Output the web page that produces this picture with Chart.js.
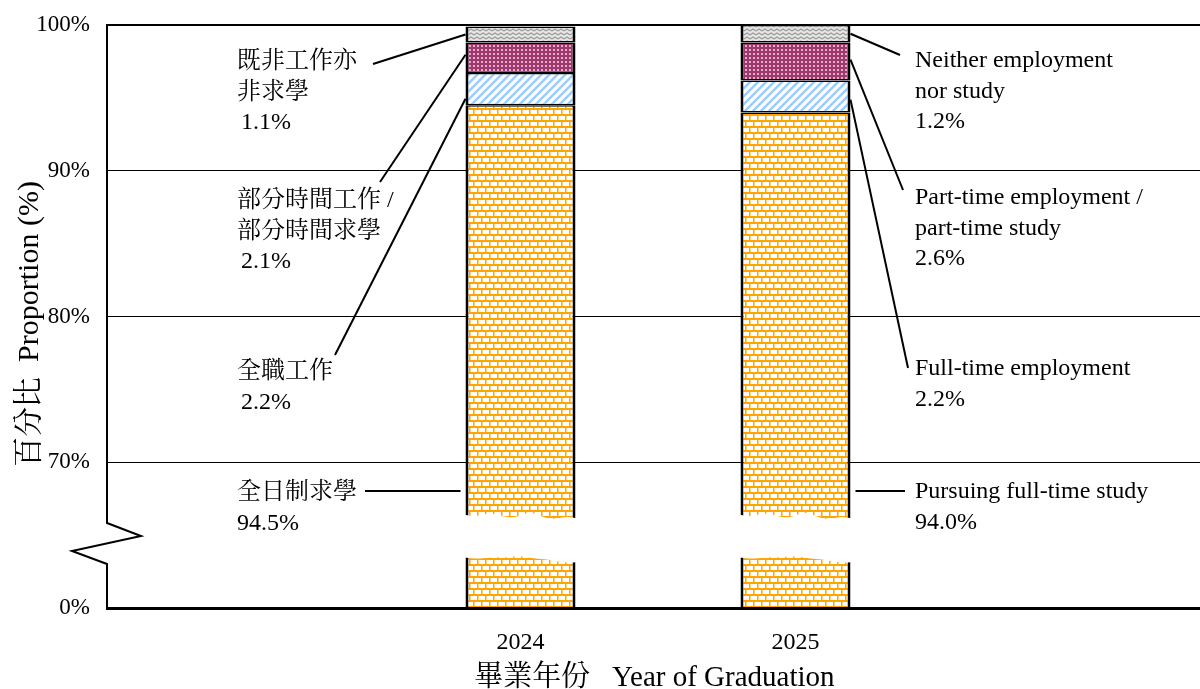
<!DOCTYPE html>
<html><head><meta charset="utf-8">
<script src="https://cdn.jsdelivr.net/npm/chart.js@4/dist/chart.umd.min.js"></script>
<style>html,body{margin:0;padding:0;background:#fff;overflow:hidden;}canvas{display:block;}</style>
</head><body>
<canvas id="c" width="1208" height="689"></canvas>
<script>
// ---- data ----
const years = ['2024', '2025'];
const fullTimeStudy = [94.5, 94.0];
const fullTimeEmployment = [2.2, 2.2];
const partTime = [2.1, 2.6];
const neither = [1.1, 1.2];
const yTicks = [60, 70, 80, 90, 100];
const yTickLabels = ['0%', '70%', '80%', '90%', '100%'];
const seriesZh = [['全日制求學'], ['全職工作'], ['部分時間工作 /', '部分時間求學'], ['既非工作亦', '非求學']];
const seriesEn = [['Pursuing full-time study'], ['Full-time employment'], ['Part-time employment /', 'part-time study'], ['Neither employment', 'nor study']];
const xTitle = '畢業年份   Year of Graduation ';
const yTitle = '百分比  Proportion (%)  ';

// ---- styles ----
const SERIF = '"Liberation Serif", "Noto Serif CJK TC", "Noto Sans CJK TC", serif';
const canvas = document.getElementById('c');
const ctx = canvas.getContext('2d');
function makePattern(w, h, draw) {
  const c = document.createElement('canvas'); c.width = w; c.height = h;
  const g = c.getContext('2d'); draw(g, w, h);
  return ctx.createPattern(c, 'repeat');
}
const orangePat = makePattern(8, 12, (g) => {
  g.fillStyle = '#fff'; g.fillRect(0, 0, 8, 12);
  g.fillStyle = '#FFA500';
  g.fillRect(0, 0, 8, 2); g.fillRect(0, 6, 8, 2);
  g.fillRect(1, 2, 1.5, 4); g.fillRect(5, 8, 1.5, 4);
});
const bluePat = makePattern(8, 8, (g) => {
  g.fillStyle = '#fff'; g.fillRect(0, 0, 8, 8);
  g.strokeStyle = '#99CCFF'; g.lineWidth = 2.5;
  for (const k of [-8, 0, 8]) { g.beginPath(); g.moveTo(k - 1, 9); g.lineTo(k + 9, -1); g.stroke(); }
});
const pinkPat = makePattern(4, 4, (g) => {
  g.fillStyle = '#9C3A6E'; g.fillRect(0, 0, 4, 4);
  g.fillStyle = '#E8A8CA'; g.fillRect(1, 1, 2, 2);
});
const grayPat = makePattern(6, 4, (g) => {
  g.fillStyle = '#E6E6E6'; g.fillRect(0, 0, 6, 4);
  g.strokeStyle = '#9A9A9A'; g.lineWidth = 1.2;
  g.beginPath(); g.moveTo(0, 3); g.lineTo(3, 1); g.lineTo(6, 3); g.stroke();
});

const pad = arr => [null, ...arr, null];
const labels = ['', ...years, ''];

// ---- annotation layout (pixel positions of text blocks) ----
const LINE_H = 30.5;
const leftLayout = [
  { x: 237, y: 493, px: 237, start: [365, 491], anchor: null },
  { x: 237, y: 372, px: 241, start: [335, 355], anchor: 0.2 },
  { x: 237, y: 201, px: 241, start: [380, 182], anchor: 0.6 },
  { x: 237, y: 62,  px: 241, start: [373, 64],  anchor: 0.5 }
];
const rightLayout = [
  { x: 915, y: 492, px: 915, start: [905, 491], anchor: null },
  { x: 915, y: 369, px: 915, start: [908, 368], anchor: 0.4 },
  { x: 915, y: 198, px: 915, start: [903, 190], anchor: 0.55 },
  { x: 915, y: 61,  px: 915, start: [900, 55],  anchor: 0.5 }
];

const breakPlugin = {
  id: 'breakPlugin',
  afterDatasetsDraw(chart) {
    const c = chart.ctx, ys = chart.scales.y, area = chart.chartArea;
    const meta = chart.getDatasetMeta(0);
    const yTop = ys.getPixelForValue(66.45), yBot = ys.getPixelForValue(63.5);
    c.save();
    meta.data.forEach((el, i) => {
      if (chart.data.datasets[0].data[i] == null) return;
      const L = el.x - el.width / 2 - 3, R = el.x + el.width / 2 + 3;
      const top = t => yTop + 5 * t - 2.5 * Math.exp(-Math.pow((t - 0.6) / 0.12, 2)) + 1.5 * Math.sin(t * Math.PI * 6);
      const bot = t => yBot + 5 * t - 4 * Math.exp(-Math.pow((t - 0.5) / 0.12, 2)) + 1 * Math.sin(t * Math.PI * 5);
      c.beginPath();
      const N = 40;
      for (let k = 0; k <= N; k++) { const t = k / N; const x = L + (R - L) * t; k ? c.lineTo(x, top(t)) : c.moveTo(x, top(t)); }
      for (let k = N; k >= 0; k--) { const t = k / N; c.lineTo(L + (R - L) * t, bot(t)); }
      c.closePath(); c.fillStyle = '#fff'; c.fill();
    });
    // axes
    const x0 = area.left - 1;
    c.strokeStyle = '#000'; c.lineJoin = 'miter';
    c.lineWidth = 2;
    c.beginPath();
    c.moveTo(x0, area.top - 1);
    c.lineTo(x0, ys.getPixelForValue(65.83));
    c.lineTo(x0 + 34, ys.getPixelForValue(64.94));
    c.lineTo(x0 - 35, ys.getPixelForValue(63.91));
    c.lineTo(x0, ys.getPixelForValue(63.02));
    c.lineTo(x0, area.bottom);
    c.stroke();
    c.beginPath(); c.moveTo(x0 - 1, area.top); c.lineTo(chart.width, area.top); c.stroke();
    c.lineWidth = 3;
    c.beginPath(); c.moveTo(x0 - 1, area.bottom + 0.5); c.lineTo(chart.width, area.bottom + 0.5); c.stroke();
    c.restore();
  },
  afterDraw(chart) {
    const c = chart.ctx, ys = chart.scales.y;
    const series = [fullTimeStudy, fullTimeEmployment, partTime, neither];
    const bars = chart.getDatasetMeta(0).data.filter((el, i) => chart.data.datasets[0].data[i] != null);
    c.save();
    c.fillStyle = '#000'; c.strokeStyle = '#000'; c.lineWidth = 2;
    c.font = '24px ' + SERIF; c.textBaseline = 'middle'; c.textAlign = 'left';
    const sides = [[leftLayout, seriesZh, 0, -1], [rightLayout, seriesEn, 1, 1]];
    for (const [layout, names, bi, dir] of sides) {
      const bar = bars[bi];
      const edge = bar.x + dir * bar.width / 2;
      layout.forEach((lay, s) => {
        let base = 0; for (let k = 0; k < s; k++) base += series[k][bi];
        const v = series[s][bi];
        names[s].forEach((ln, j) => c.fillText(ln, lay.x, lay.y + j * LINE_H));
        c.fillText(v.toFixed(1) + '%', lay.px, lay.y + names[s].length * LINE_H);
        c.beginPath();
        if (lay.anchor == null) {
          c.moveTo(lay.start[0], lay.start[1]);
          c.lineTo(edge + dir * 5, lay.start[1]);
        } else {
          c.moveTo(lay.start[0], lay.start[1]);
          c.lineTo(edge, ys.getPixelForValue(base + v * lay.anchor));
        }
        c.stroke();
      });
    }
    c.restore();
  }
};

const ds = (label, arr, bg) => ({ label, data: pad(arr), backgroundColor: bg });
new Chart(ctx, {
  type: 'bar',
  data: {
    labels,
    datasets: [
      ds(seriesEn[0][0], fullTimeStudy, orangePat),
      ds(seriesEn[1][0], fullTimeEmployment, bluePat),
      ds('Part-time employment / part-time study', partTime, pinkPat),
      ds('Neither employment nor study', neither, grayPat)
    ]
  },
  options: {
    responsive: false, animation: false, devicePixelRatio: 1,
    layout: { padding: { top: 25, right: 0, bottom: 0, left: 0 } },
    datasets: { bar: { categoryPercentage: 0.4, barPercentage: 1, borderColor: '#000',
      borderWidth: { top: 1.5, bottom: 1.5, left: 3, right: 3 }, borderSkipped: false } },
    plugins: { legend: { display: false }, tooltip: { enabled: false } },
    scales: {
      x: {
        stacked: true, grid: { display: false }, border: { display: false },
        ticks: { color: '#000', font: { family: SERIF, size: 24 }, padding: 12, maxRotation: 0 },
        title: { display: true, text: xTitle, color: '#000', font: { family: SERIF, size: 29, lineHeight: 1 }, padding: { top: 0, bottom: -4 } },
        afterFit(s) { s.height = 81; s.paddingLeft = 0; s.paddingRight = 0; }
      },
      y: {
        stacked: true, min: 60, max: 100,
        afterBuildTicks(s) { s.ticks = yTicks.map(v => ({ value: v })); },
        ticks: { callback: v => yTickLabels[yTicks.indexOf(v)], color: '#000', font: { family: SERIF, size: 23 }, padding: 18 },
        grid: { drawTicks: false,
          color: c => (c.tick && c.tick.value === 60) ? 'rgba(0,0,0,0)' : '#000',
          lineWidth: c => (c.tick && c.tick.value === 100) ? 2 : 1 },
        border: { display: false },
        title: { display: true, text: yTitle, color: '#000', font: { family: SERIF, size: 30, lineHeight: 1 }, padding: { top: 15, bottom: 0 } },
        afterFit(s) { s.width = 108; s.paddingTop = 0; s.paddingBottom = 0; }
      }
    }
  },
  plugins: [breakPlugin]
});
</script>
</body></html>
